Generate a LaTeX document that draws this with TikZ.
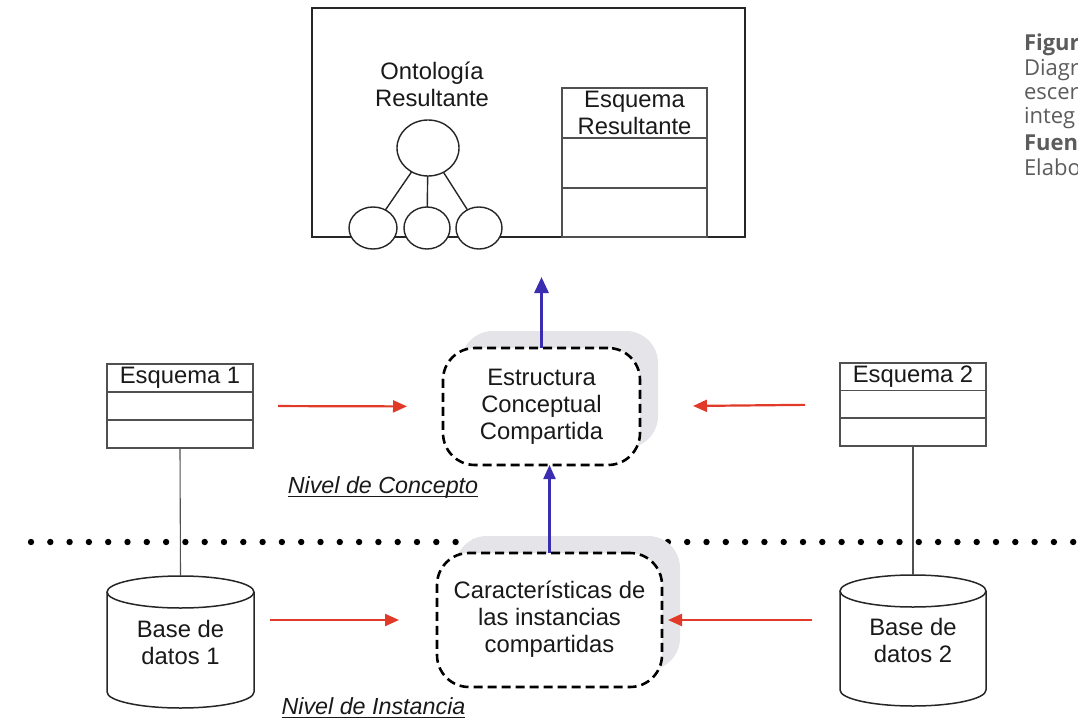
\documentclass[tikz,border=0pt]{standalone}
\usepackage{fontspec}
\setmainfont{Liberation Sans}
\newfontfamily\notefont{Open Sans}
\usetikzlibrary{shapes.geometric,arrows.meta,calc,shadows}

\definecolor{inkred}{HTML}{E23A28}
\definecolor{inkblue}{HTML}{3A2DB2}
\definecolor{shade}{HTML}{E4E4E9}
\definecolor{rule}{HTML}{505050}
\definecolor{notegray}{HTML}{5C5C5C}

\begin{document}
\begin{tikzpicture}[x=1pt,y=1pt,
  every node/.style={inner sep=0pt, outer sep=0pt},
  lbl/.style={font=\fontsize{23.8}{27}\selectfont, align=center, text=black!90},
  levellbl/.style={font=\fontsize{23.3}{27}\selectfont\itshape, text=black!90},
  note/.style={font=\notefont\fontsize{22}{24}\selectfont, text=notegray, anchor=base west},
  frame/.style={draw=black!85, line width=1.6pt},
  grid/.style={draw=rule, line width=1.1pt},
  orb/.style={ellipse, draw=black!85, line width=1.4pt, fill=white},
  cloudbox/.style={draw=black, line width=2.6pt, dash pattern=on 9pt off 5pt,
    rounded corners=32pt, fill=white,
    drop shadow={shadow xshift=18pt, shadow yshift=17pt, fill=shade, opacity=1}},
  cyl/.style={draw=black!85, line width=1.5pt},
  redarrow/.style={draw=inkred, line width=2.2pt, -{Triangle[length=14pt,width=12pt]}},
  bluearrow/.style={draw=inkblue, line width=3pt, -{Triangle[length=16pt,width=14pt]}},
  bluearrowthin/.style={draw=inkblue, line width=2.2pt, -{Triangle[length=14pt,width=12pt]}}
]
\useasboundingbox (0,0) rectangle (1078,-722);

% caption column, running off the right edge
\begin{scope}
\clip (0,0) rectangle (1078,-722);
\node[note] (cap1) at (1024,-51) {\bfseries Figur};
\node[note] (cap2) at (1024,-76) {Diagr};
\node[note] (cap3) at (1024,-100) {escer};
\node[note] (cap4) at (1024,-124) {integ};
\node[note] (cap5) at (1024,-151) {\bfseries Fuen};
\node[note] (cap6) at (1024,-176) {Elabo};
\end{scope}

% resulting frame: ontology and schema
\node[frame, minimum width=433pt, minimum height=229pt] (result) at (528.5,-122.5) {};
\node[lbl] (ontolbl) at (432,-84) {Ontología\\Resultante};
\node[orb, minimum width=62pt, minimum height=56pt] (oroot) at (428,-148) {};
\node[orb, minimum width=48pt, minimum height=42pt] (oa) at (373,-228) {};
\node[orb, minimum width=46pt, minimum height=42pt] (ob) at (427,-228) {};
\node[orb, minimum width=46pt, minimum height=42pt] (oc) at (479,-228) {};
\draw[line width=1.4pt, black!85] (oroot) -- (oa);
\draw[line width=1.4pt, black!85] (oroot) -- (ob);
\draw[line width=1.4pt, black!85] (oroot) -- (oc);

\node[grid, draw, minimum width=145pt, minimum height=149pt] (esqres) at (634.5,-162.5) {};
\draw[grid] ([yshift=-50pt]esqres.north west) -- ([yshift=-50pt]esqres.north east);
\draw[grid] ([yshift=-100pt]esqres.north west) -- ([yshift=-100pt]esqres.north east);
\node[lbl] (esqreslbl) at (634.5,-113) {Esquema\\Resultante};

% level separator
\foreach \i in {0,...,54}
  \fill[black] ({31+19.3*\i},-542) circle[radius=3.2pt];

% shared structures
\node[cloudbox, minimum width=197pt, minimum height=117pt] (est) at (541.5,-406.5) {};
\node[lbl] (estlbl) at (541.5,-406.5) {Estructura\\Conceptual\\Compartida};
\node[cloudbox, minimum width=225pt, minimum height=134pt] (car) at (549.5,-620) {};
\node[lbl] (carlbl) at (549.5,-619) {Características de\\las instancias\\compartidas};

\coordinate (up) at (541.5,-277);
\draw[bluearrow] (est.north) -- (up);
\draw[bluearrowthin] (car.north) -- (car.north |- est.south);

% source schemas
\node[grid, draw, minimum width=146pt, minimum height=84pt] (esq1) at (180,-406) {};
\draw[grid] ([yshift=-28pt]esq1.north west) -- ([yshift=-28pt]esq1.north east);
\draw[grid] ([yshift=-56pt]esq1.north west) -- ([yshift=-56pt]esq1.north east);
\node[lbl] (esq1lbl) at ([yshift=-14pt]esq1.north) {Esquema 1};

\node[grid, draw, minimum width=146pt, minimum height=83pt] (esq2) at (913,-404.5) {};
\draw[grid] ([yshift=-27.5pt]esq2.north west) -- ([yshift=-27.5pt]esq2.north east);
\draw[grid] ([yshift=-55pt]esq2.north west) -- ([yshift=-55pt]esq2.north east);
\node[lbl] (esq2lbl) at ([yshift=-14pt]esq2.north) {Esquema 2};

% databases
\node[lbl, minimum width=147pt, minimum height=100pt] (db1) at (180.5,-642) {Base de\\datos 1};
\draw[cyl] (db1.north west) -- (db1.south west)
  arc[start angle=180, end angle=360, x radius=73.5pt, y radius=16pt] -- (db1.north east);
\draw[cyl] (db1.north) ellipse[x radius=73.5pt, y radius=16pt];

\node[lbl, minimum width=146pt, minimum height=99pt] (db2) at (913,-640.5) {Base de\\datos 2};
\draw[cyl] (db2.north west) -- (db2.south west)
  arc[start angle=180, end angle=360, x radius=73pt, y radius=16pt] -- (db2.north east);
\draw[cyl] (db2.north) ellipse[x radius=73pt, y radius=16pt];

% schema to database links
\draw[grid] (esq1.south) -- ([yshift=16pt]db1.north);
\draw[grid] (esq2.south) -- ([yshift=16pt]db2.north);

% contributions to the shared structures
\draw[redarrow, shorten <=25pt, shorten >=36pt] (esq1.east) -- (est.west);
\draw[redarrow, shorten <=35pt, shorten >=53pt] (esq2.west) -- (est.east);
\draw[redarrow, shorten <=16pt, shorten >=38pt] (db1.east |- car.west) -- (car.west);
\draw[redarrow, shorten <=28pt, shorten >=6pt] (db2.west |- car.east) -- (car.east);

% level labels
\node[levellbl] (nivcon) at (383,-487) {Nivel de Concepto};
\draw[line width=1.3pt, black!90] ([yshift=-3.5pt]nivcon.base west) -- ([yshift=-3.5pt]nivcon.base east);
\node[levellbl] (nivins) at (373.5,-706) {Nivel de Instancia};
\draw[line width=1.3pt, black!90] ([yshift=-3.5pt]nivins.base west) -- ([yshift=-3.5pt]nivins.base east);
\end{tikzpicture}
\end{document}
